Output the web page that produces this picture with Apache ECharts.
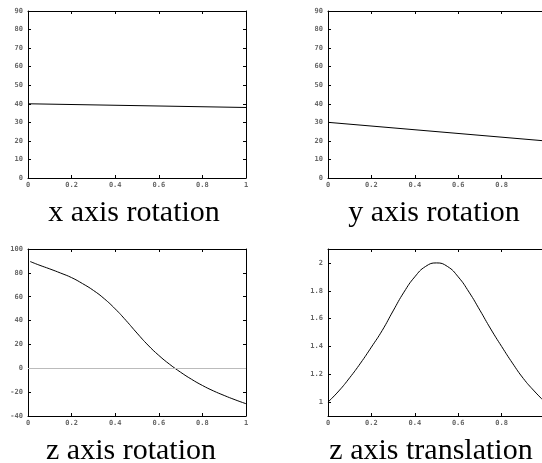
<!DOCTYPE html>
<html>
<head>
<meta charset="utf-8">
<script src="https://cdn.jsdelivr.net/npm/echarts@6/dist/echarts.min.js"></script>
<style>
  html, body { margin: 0; padding: 0; background: #fff; }
  #main { width: 542px; height: 463px; }
</style>
</head>
<body>
<div id="main"></div>
<script>
// panel data
var xRotX = [0, 1];
var xRotY = [40, 38];

var yRotX = [0, 1];
var yRotY = [30, 20];

var zRotX = [0.01, 0.05, 0.1, 0.15, 0.2, 0.25, 0.3, 0.35, 0.4, 0.45, 0.5,
             0.55, 0.6, 0.65, 0.7, 0.75, 0.8, 0.85, 0.9, 0.95, 1];
var zRotY = [89.5, 86.6, 83.3, 79.8, 76, 71, 65.3, 58.3, 49.8, 40, 29.5,
             19.5, 10.8, 3.3, -3.3, -9.2, -14.4, -18.9, -22.8, -26.4, -29.7];

var zTrX = [0, 0.05, 0.1, 0.15, 0.2, 0.25, 0.3, 0.35, 0.4, 0.45, 0.5,
            0.55, 0.6, 0.65, 0.7, 0.75, 0.8, 0.85, 0.9, 0.95, 1];
var zTrY = [1, 1.08, 1.175, 1.28, 1.395, 1.515, 1.655, 1.79, 1.9, 1.975, 2,
            1.975, 1.9, 1.79, 1.66, 1.525, 1.4, 1.28, 1.17, 1.08, 1];

var titles = ["x axis rotation", "y axis rotation", "z axis rotation", "z axis translation"];
var trTicks = [1, 1.2, 1.4, 1.6, 1.8, 2];

var myChart = echarts.init(document.getElementById("main"));

var labelStyle = {
  fontFamily: "DejaVu Sans Mono",
  fontSize: 7,
  fontWeight: "bold",
  color: "#666",
};
var frameLine = { show: true, onZero: false, lineStyle: { color: "#000", width: 1 } };
var tick = { show: true, inside: true, length: 3, lineStyle: { color: "#000" } };

function pair(s) {
  return s.x.map(function (v, i) {
    return [v, s.y[i]];
  });
}

var grids = [
  { left: 28, top: 11, width: 218, height: 167, outerBoundsMode: "none" },
  { left: 328, top: 11, width: 217, height: 167, outerBoundsMode: "none" },
  { left: 28, top: 249, width: 218, height: 167, outerBoundsMode: "none" },
  { left: 328, top: 249, width: 217, height: 167, outerBoundsMode: "none" },
];
var yRanges = [
  { min: 0, max: 90, interval: 10 },
  { min: 0, max: 90, interval: 10 },
  { min: -40, max: 100, interval: 20 },
  { min: 0.9, max: 2.1 },
];
var lines = [
  { x: xRotX, y: xRotY },
  { x: yRotX, y: yRotY },
  { x: zRotX, y: zRotY },
  { x: zTrX, y: zTrY },
];

var xAxes = [];
var yAxes = [];
var series = [];
grids.forEach(function (g, i) {
  // bottom axis with labels, top axis only for mirrored ticks
  xAxes.push({
    type: "value", gridIndex: i, min: 0, max: 1, interval: 0.2,
    position: "bottom",
    axisLine: frameLine, axisTick: tick, splitLine: { show: false },
    axisLabel: Object.assign({ margin: 4 }, labelStyle),
  });
  xAxes.push({
    type: "value", gridIndex: i, min: 0, max: 1, interval: 0.2,
    position: "top",
    axisLine: frameLine, axisTick: tick, splitLine: { show: false },
    axisLabel: { show: false },
  });
  var r = yRanges[i];
  var left = {
    type: "value", gridIndex: i, min: r.min, max: r.max,
    position: "left",
    axisLine: frameLine, axisTick: Object.assign({}, tick), splitLine: { show: false },
    axisLabel: Object.assign({ margin: 5 }, labelStyle),
  };
  var right = {
    type: "value", gridIndex: i, min: r.min, max: r.max,
    position: "right",
    axisLine: frameLine, axisTick: Object.assign({}, tick), splitLine: { show: false },
    axisLabel: { show: false },
  };
  if (r.interval) {
    left.interval = r.interval;
    right.interval = r.interval;
  } else {
    left.axisLabel.customValues = trTicks;
    left.axisTick.customValues = trTicks;
    right.axisTick.customValues = trTicks;
  }
  yAxes.push(left, right);

  var s = {
    type: "line",
    xAxisIndex: i * 2,
    yAxisIndex: i * 2,
    data: pair(lines[i]),
    showSymbol: false,
    smooth: i >= 2 ? 0.5 : false,
    lineStyle: { color: "#000", width: 1 },
    silent: true,
    z: 3,
  };
  if (i === 2) {
    s.markLine = {
      silent: true,
      symbol: "none",
      label: { show: false },
      lineStyle: { color: "#bbb", type: "solid", width: 1 },
      data: [{ yAxis: 0 }],
    };
  }
  series.push(s);
});

var titlePos = [
  { left: 134, top: 198 },
  { left: 434, top: 198 },
  { left: 131, top: 436 },
  { left: 431, top: 436 },
];

myChart.setOption({
  animation: false,
  backgroundColor: "#fff",
  title: titles.map(function (t, i) {
    return {
      text: t,
      left: titlePos[i].left,
      top: titlePos[i].top,
      textAlign: "center",
      padding: 0,
      textStyle: {
        fontFamily: "Liberation Serif",
        fontSize: 30,
        fontWeight: "normal",
        color: "#000",
      },
    };
  }),
  grid: grids,
  xAxis: xAxes,
  yAxis: yAxes,
  series: series,
});
</script>
</body>
</html>
